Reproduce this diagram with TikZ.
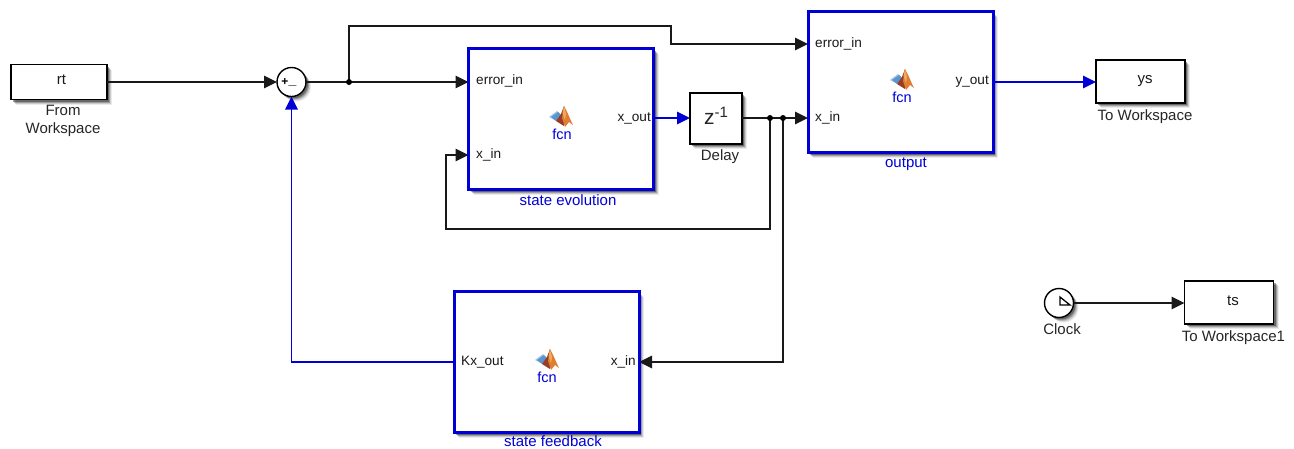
\documentclass[tikz,border=0pt]{standalone}
\usepackage{fontspec}
\setmainfont{Liberation Sans}
\usetikzlibrary{arrows.meta,shadows,calc}
\definecolor{slblue}{RGB}{0,0,214}
\definecolor{wire}{RGB}{25,25,25}
\definecolor{lgblue}{RGB}{90,150,205}
\definecolor{lgred}{RGB}{150,60,40}
\definecolor{lgorange}{RGB}{225,125,50}
\definecolor{lgyellow}{RGB}{240,170,90}
\tikzset{
  softshadow/.style={general shadow={shadow xshift=5pt,shadow yshift=-5pt,fill=black,opacity=.08},
                     general shadow={shadow xshift=4pt,shadow yshift=-4pt,fill=black,opacity=.14},
                     general shadow={shadow xshift=3pt,shadow yshift=-3pt,fill=black,opacity=.22},
                     general shadow={shadow xshift=2pt,shadow yshift=-2pt,fill=black,opacity=.35}},
  plainblock/.style={draw=black,fill=white,line width=1.4pt,softshadow,inner sep=0pt,outer sep=0pt},
  fnblock/.style={draw=slblue,fill=white,line width=3pt,softshadow,inner sep=0pt,outer sep=0pt},
  roundblock/.style={circle,draw=black,fill=white,line width=1.4pt,softshadow,inner sep=0pt,outer sep=0pt,minimum size=29pt},
  lab/.style={font=\fontsize{15}{18}\selectfont,text=black!85,inner sep=0pt,align=center},
  blocktext/.style={font=\fontsize{15}{17}\selectfont,text=black!90,inner sep=0pt},
  bluelab/.style={lab,text=slblue},
  port/.style={font=\fontsize{13.6}{15}\selectfont,text=black!90,inner sep=0pt},
  fcnlab/.style={font=\fontsize{14.5}{15}\selectfont,text=slblue,inner sep=0pt},
  conn/.style={draw=wire,line width=1.3pt,-{Triangle[length=13pt,width=12.5pt]}},
  bconn/.style={conn,draw=slblue,-{Triangle[length=13pt,width=12.5pt,fill=slblue]}},
  dot/.style={circle,fill=black,inner sep=0pt,minimum size=6pt},
}
\newcommand{\mllogo}[2]{%
  \begin{scope}[shift={(#1,#2)}]
    \fill[lgblue!55!white] (-12,0) -- (-4,-6) -- (-1,-3) -- (-6,3) -- cycle;
    \fill[lgblue] (-10,0) -- (-3,-5) -- (0,-2) -- (-5,4) -- cycle;
    \fill[lgred] (-5,4) -- (0,-3) -- (3,-11) -- (3,9) -- cycle;
    \fill[lgorange] (3,-11) .. controls (6,-6) and (9,2) .. (12,8) -- (8,5) -- (4,10) -- (1,1) -- cycle;
    \fill[lgyellow] (3,-11) -- (5,-3) -- (4,3) -- (1.5,-4) -- cycle;
  \end{scope}}
\begin{document}
\begin{tikzpicture}[x=1pt,y=-1pt]
\useasboundingbox (0,0) rectangle (1294,448);
% blocks
\node[plainblock,minimum width=96pt,minimum height=35pt,anchor=north west] (rt) at (11,64.5) {};
\node[blocktext] (rttext) at (61.5,80) {rt};
\node[lab] (rtlab) at (63,121) {From\\Workspace};
\node[roundblock] (sum) at (291.5,82) {};
\node[inner sep=0pt,font=\bfseries\fontsize{12}{12}\selectfont] (plus) at (285,82) {+};
\node[inner sep=0pt,font=\bfseries\fontsize{14}{14}\selectfont] (minus) at (292.5,85) {\_};
\node[fnblock,minimum width=185pt,minimum height=141pt,anchor=north west] (se) at (468.5,48.5) {};
\node[plainblock,minimum width=52pt,minimum height=51pt,anchor=north west] (delay) at (690,93) {};
\node[inner sep=0pt,font=\fontsize{21}{22}\selectfont,text=black!85] (z) at (716,116) {z\raisebox{7pt}{\fontsize{15}{15}\selectfont -1}};
\node[lab] (delaylab) at (720,156.5) {Delay};
\node[fnblock,minimum width=185pt,minimum height=141pt,anchor=north west] (out) at (808,11.5) {};
\node[fnblock,minimum width=185pt,minimum height=141pt,anchor=north west] (fb) at (454,291.5) {};
\node[plainblock,minimum width=89pt,minimum height=43pt,anchor=north west] (ys) at (1096,60) {};
\node[blocktext] (ystext) at (1145,81) {ys};
\node[lab] (yslab) at (1145,116.5) {To Workspace};
\node[plainblock,minimum width=89pt,minimum height=43pt,anchor=north west] (ts) at (1184.5,281) {};
\node[blocktext] (tstext) at (1233,301) {ts};
\node[lab] (tslab) at (1233.5,337.5) {To Workspace1};
\node[roundblock] (clock) at (1059,303) {};
\node[lab] (clocklab) at (1062,329.5) {Clock};
\draw[black,line width=1.3pt] (1060,297) -- (1060,305) -- (1070,305) -- cycle;
% block texts
\node[bluelab] (selab) at (568,200.5) {state evolution};
\node[bluelab] (outlab) at (906,164.5) {output};
\node[bluelab,anchor=base] (fblab) at (553,446.5) {state feedback};
\node[port,anchor=west] (seerr) at (476,81) {error\_in};
\node[port,anchor=west] (sexin) at (476,155) {x\_in};
\node[port,anchor=east] (sexout) at (651,118) {x\_out};
\node[port,anchor=west] (outerr) at (815,44) {error\_in};
\node[port,anchor=west] (outxin) at (815,118) {x\_in};
\node[port,anchor=east] (outy) at (989,82) {y\_out};
\node[port,anchor=west] (fbk) at (461,362) {Kx\_out};
\node[port,anchor=east] (fbx) at (636,362) {x\_in};
\mllogo{561}{117}
\node[fcnlab] (f1) at (562,134) {fcn};
\mllogo{902}{80}
\node[fcnlab] (f2) at (902,97) {fcn};
\mllogo{547}{360}
\node[fcnlab] (f3) at (547,377) {fcn};
% port coordinates
\coordinate (j1) at (349,82);
\coordinate (j2) at (770,118);
\coordinate (j3) at (783,118);
\coordinate (seIn1) at (se.west |- 0,82);
\coordinate (seIn2) at (se.west |- 0,155);
\coordinate (seOut) at (se.east |- 0,118);
\coordinate (outIn1) at (out.west |- 0,44);
\coordinate (outIn2) at (out.west |- 0,118);
\coordinate (outOut) at (out.east |- 0,82);
\coordinate (fbOut) at (fb.west |- 0,362);
\coordinate (fbIn) at (fb.east |- 0,362);
% connectors
\draw[conn] (rt.east |- sum) -- (sum.west);
\draw[conn] (sum.east) -- (seIn1);
\draw[conn] (j1) |- (671,26) |- (outIn1);
\draw[bconn] (seOut) -- (delay.west |- seOut);
\draw[conn] (delay.east |- seOut) -- (outIn2);
\draw[conn] (j2) |- (446,229) |- (seIn2);
\draw[conn] (j3) |- (fbIn);
\draw[bconn] (fbOut) -| (sum.south);
\draw[bconn] (outOut) -- (ys.west |- outOut);
\draw[conn] (clock.east) -- (ts.west |- clock);
\node[dot] (d1) at (j1) {};
\node[dot] (d2) at (j2) {};
\node[dot] (d3) at (j3) {};
\end{tikzpicture}
\end{document}
